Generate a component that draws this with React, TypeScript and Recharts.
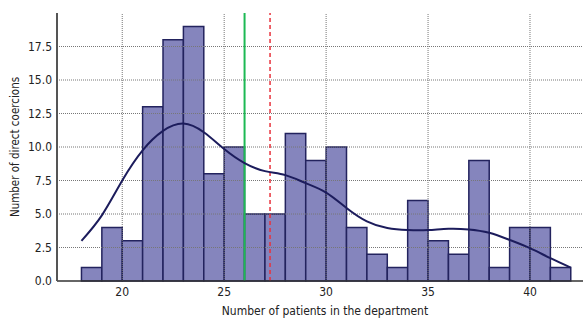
import React from 'react';
import {
  ComposedChart,
  Line,
  XAxis,
  YAxis,
  ReferenceArea,
  ReferenceLine,
  Label,
} from 'recharts';

const binStarts = [18, 19, 20, 21, 22, 23, 24, 25, 26, 27, 28, 29, 30, 31, 32, 33, 34, 35, 36, 37, 38, 39, 40, 41];
const binCounts = [1, 4, 3, 13, 18, 19, 8, 10, 5, 5, 11, 9, 10, 4, 2, 1, 6, 3, 2, 9, 1, 4, 4, 1];
const binWidth = 1;

const kdeX = [18, 19, 20, 21, 22, 23, 24, 25, 26, 27, 28, 29, 30, 31, 32, 33, 34, 35, 36, 37, 38, 39, 40, 41, 42];
const kdeY = [3.0, 4.9, 7.5, 9.75, 11.2, 11.75, 11.1, 9.85, 8.8, 8.2, 7.9, 7.3, 6.6, 5.45, 4.45, 3.95, 3.8, 3.8, 3.9, 3.85, 3.6, 3.07, 2.45, 1.7, 1.0];

const xTicks = [20, 25, 30, 35, 40];
const yTicks = [0, 2.5, 5, 7.5, 10, 12.5, 15, 17.5];

const medianValue = 26;
const meanValue = 27.25;

const kdeData = kdeX.map((x, i) => ({ x, y: kdeY[i] }));

const FONT = '"DejaVu Sans Condensed", "Liberation Sans Narrow", "Noto Sans", sans-serif';

export default function App() {
  return (
    <div style={{ position: 'absolute', left: 0, top: 0, width: 583, height: 318, background: '#fff' }}>
      <ComposedChart
        width={583}
        height={318}
        data={kdeData}
        margin={{ top: 13, right: 0, bottom: 0, left: 0 }}
        style={{ fontFamily: FONT }}
      >
        <XAxis
          dataKey="x"
          type="number"
          domain={[16.8, 42.6]}
          ticks={xTicks}
          allowDataOverflow
          height={37}
          tickLine={false}
          tickSize={4}
          axisLine={{ stroke: '#333', strokeWidth: 1.5 }}
          tick={{ fill: '#222', fontSize: 12, fontFamily: FONT }}
        >
          <Label
            value="Number of patients in the department"
            position="center"
            dx={5}
            dy={11}
            style={{ fill: '#222', fontSize: 12, fontFamily: FONT }}
          />
        </XAxis>
        <YAxis
          type="number"
          domain={[0, 20]}
          ticks={yTicks}
          allowDataOverflow
          width={57}
          tickLine={false}
          tickSize={3}
          tickFormatter={(v: number) => v.toFixed(1)}
          axisLine={{ stroke: '#555', strokeWidth: 2 }}
          tick={{ fill: '#222', fontSize: 12, fontFamily: FONT }}
        >
          <Label
            value="Number of direct coercions"
            angle={-90}
            position="center"
            dx={-14}
            style={{ fill: '#222', fontSize: 11.5, fontFamily: FONT, textAnchor: 'middle' }}
          />
        </YAxis>
        {yTicks.slice(1).map((t) => (
          <ReferenceLine key={'gy' + t} y={t} stroke="#777" strokeDasharray="1 1" strokeWidth={1} />
        ))}
        {xTicks.map((t) => (
          <ReferenceLine key={'gx' + t} x={t} stroke="#777" strokeDasharray="1 1" strokeWidth={1} />
        ))}
        {binStarts.map((s, i) => (
          <ReferenceArea
            key={s}
            x1={s}
            x2={s + binWidth}
            y1={0}
            y2={binCounts[i]}
            fill="#8585bd"
            fillOpacity={1}
            stroke="#23235e"
            strokeWidth={1.5}
            strokeOpacity={1}
            ifOverflow="visible"
          />
        ))}
        <ReferenceLine x={medianValue} stroke="#1db954" strokeWidth={2} />
        <ReferenceLine x={meanValue} stroke="#e8323c" strokeWidth={1.5} strokeDasharray="4 3" />
        <Line
          type="natural"
          dataKey="y"
          stroke="#1c1c5c"
          strokeWidth={2}
          dot={false}
          isAnimationActive={false}
        />
      </ComposedChart>
    </div>
  );
}
